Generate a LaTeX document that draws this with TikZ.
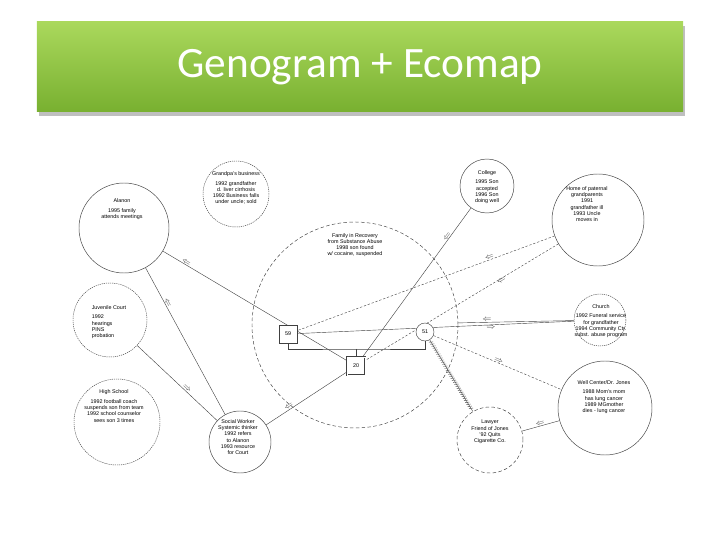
\documentclass[tikz,border=0pt]{standalone}
\usepackage{fontspec}
\setmainfont{Liberation Sans}
\newfontfamily\titlefont{Carlito}
\usepackage{xcolor}
\usetikzlibrary{positioning,decorations.markings,backgrounds}

\definecolor{bannertop}{RGB}{170,216,92}
\definecolor{bannerbot}{RGB}{120,176,48}
\newcommand{\ecofont}{\fontsize{4.6}{5.3}\selectfont}

\begin{document}
\begin{tikzpicture}[x=0.03cm, y=-0.03cm,
        eco/.style={circle, draw=black!75, line width=0.4pt, inner sep=0pt},
        ecodot/.style={eco, dash pattern=on 1pt off 0.8pt},
        ecodash/.style={eco, dash pattern=on 3pt off 2pt},
        ecotext/.style={align=center, font=\ecofont, inner sep=0pt},
        person/.style={draw=black!75, line width=0.4pt, minimum size=0.54cm, inner sep=0pt, font=\ecofont, fill=white},
        link/.style={draw=black!75, line width=0.35pt},
        weak/.style={link, dash pattern=on 2pt off 1.5pt},
        stress/.style={link, postaction={decorate}, decoration={markings, mark=between positions 0.03 and 0.97 step 2pt with {\draw[line width=0.35pt] (-0.8pt,-1.6pt) -- (0.8pt,1.6pt);}}},
        flow/.style={sloped, font=\scriptsize, inner sep=0.5pt, text=black!70}
    ]
        \useasboundingbox (0,0) rectangle (720,540);

        % Title banner
        \fill[black, opacity=0.25] (39,26) rectangle (685,116);
        \node[top color=bannertop, bottom color=bannerbot, minimum width=19.38cm, minimum height=2.7cm,
              text=white, font=\titlefont\fontsize{37}{40}\selectfont] (banner) at (360,67) {Genogram + Ecomap};

        % Ecomap circles
        \node[ecodash, minimum size=6.18cm] (family) at (355,325) {};
        \node[eco, minimum size=2.7cm] (alanon) at (124,228) {};
        \node[ecodot, minimum size=1.98cm] (grandpa) at (236,194) {};
        \node[eco, minimum size=1.62cm] (college) at (487,186) {};
        \node[eco, minimum size=2.76cm] (home) at (598,220) {};
        \node[ecodot, minimum size=2.22cm] (court) at (110,320) {};
        \node[ecodot, minimum size=1.56cm] (church) at (600,320) {};
        \node[ecodot, minimum size=2.58cm] (school) at (117,422) {};
        \node[eco, minimum size=1.86cm] (social) at (240,442) {};
        \node[ecodash, minimum size=1.98cm] (lawyer) at (490,440) {};
        \node[eco, minimum size=2.82cm] (clinic) at (605,408) {};

        % Circle texts
        \node[ecotext] (familytxt) at (355,245) {Family in Recovery\\from Substance Abuse\\1998 son found\\w/ cocaine, suspended};
        \node[ecotext] (alanontxt) at (122,209) {Alanon\\[3pt]1995 family\\attends meetings};
        \node[ecotext] (grandpatxt) at (236,188) {Grandpa's business\\[3pt]1992 grandfather\\d. liver cirrhosis\\1992 Business falls\\under uncle; sold};
        \node[ecotext] (collegetxt) at (487,187) {College\\[3pt]1995 Son\\accepted\\1996 Son\\doing well};
        \node[ecotext] (hometxt) at (587,204) {Home of paternal\\grandparents\\1991\\grandfather ill\\1993 Uncle\\moves in};
        \node[ecotext, align=left] (courttxt) at (109,322) {Juvenile Court\\[3pt]1992\\hearings\\PINS\\probation};
        \node[ecotext] (churchtxt) at (601,321) {Church\\[3pt]1992 Funeral service\\for grandfather\\1994 Community Ctr.\\subst. abuse program};
        \node[ecotext] (schooltxt) at (114,406) {High School\\[3pt]1992 football coach\\suspends son from team\\1992 school counselor\\sees son 3 times};
        \node[ecotext] (socialtxt) at (238,437) {Social Worker\\Systemic thinker\\1992 refers\\to Alanon\\1993 resource\\for Court};
        \node[ecotext] (lawyertxt) at (490,432) {Lawyer\\Friend of Jones\\'92 Quits\\Cigarette Co.};
        \node[ecotext] (clinictxt) at (604,397) {Well Center/Dr. Jones\\[3pt]1988 Mom's mom\\has lung cancer\\1989 MGmother\\dies - lung cancer};

        % Genogram
        \node[person] (father) at (288,334) {59};
        \node[person, circle] (mother) at (425,332) {51};
        \node[person, double, double distance=0.8pt] (son) at (356,366) {20};
        \coordinate (marry) at (356,349);
        \draw[link] (father.south) |- (marry) -| (mother.south);
        \draw[link] (marry) -- (son.north);

        % Connections
        \begin{scope}[on background layer]
        \draw[link] (alanon) -- node[flow, pos=0.25, above] {$\Leftarrow$} (social);
        \draw[link] (alanon) -- node[flow, pos=0.12, above] {$\Leftarrow$} (son);
        \draw[link] (court) -- node[flow, pos=0.6, above] {$\Rightarrow$} (social);
        \draw[link] (social) -- node[flow, pos=0.3, above] {$\Leftarrow$} (son);
        \draw[link] (college) -- node[flow, pos=0.2, above] {$\Leftarrow$} (son);
        \draw[weak] (home) -- node[flow, pos=0.25, above] {$\Leftarrow$} (father);
        \draw[weak] (home) -- node[flow, pos=0.3, below] {$\Leftarrow$} (son);
        \draw[link] (church) -- node[flow, pos=0.75, above] {$\Leftarrow$} (family);
        \draw[link] (church) -- node[flow, pos=0.3, below] {$\Rightarrow$} (father);
        \draw[weak] (mother) -- node[flow, pos=0.5, above] {$\Rightarrow$} (clinic);
        \draw[stress] (mother) -- (lawyer);
        \draw[link] (lawyer) -- node[flow, pos=0.5, above] {$\Leftarrow$} (clinic);
        \end{scope}
    \end{tikzpicture}
\end{document}
